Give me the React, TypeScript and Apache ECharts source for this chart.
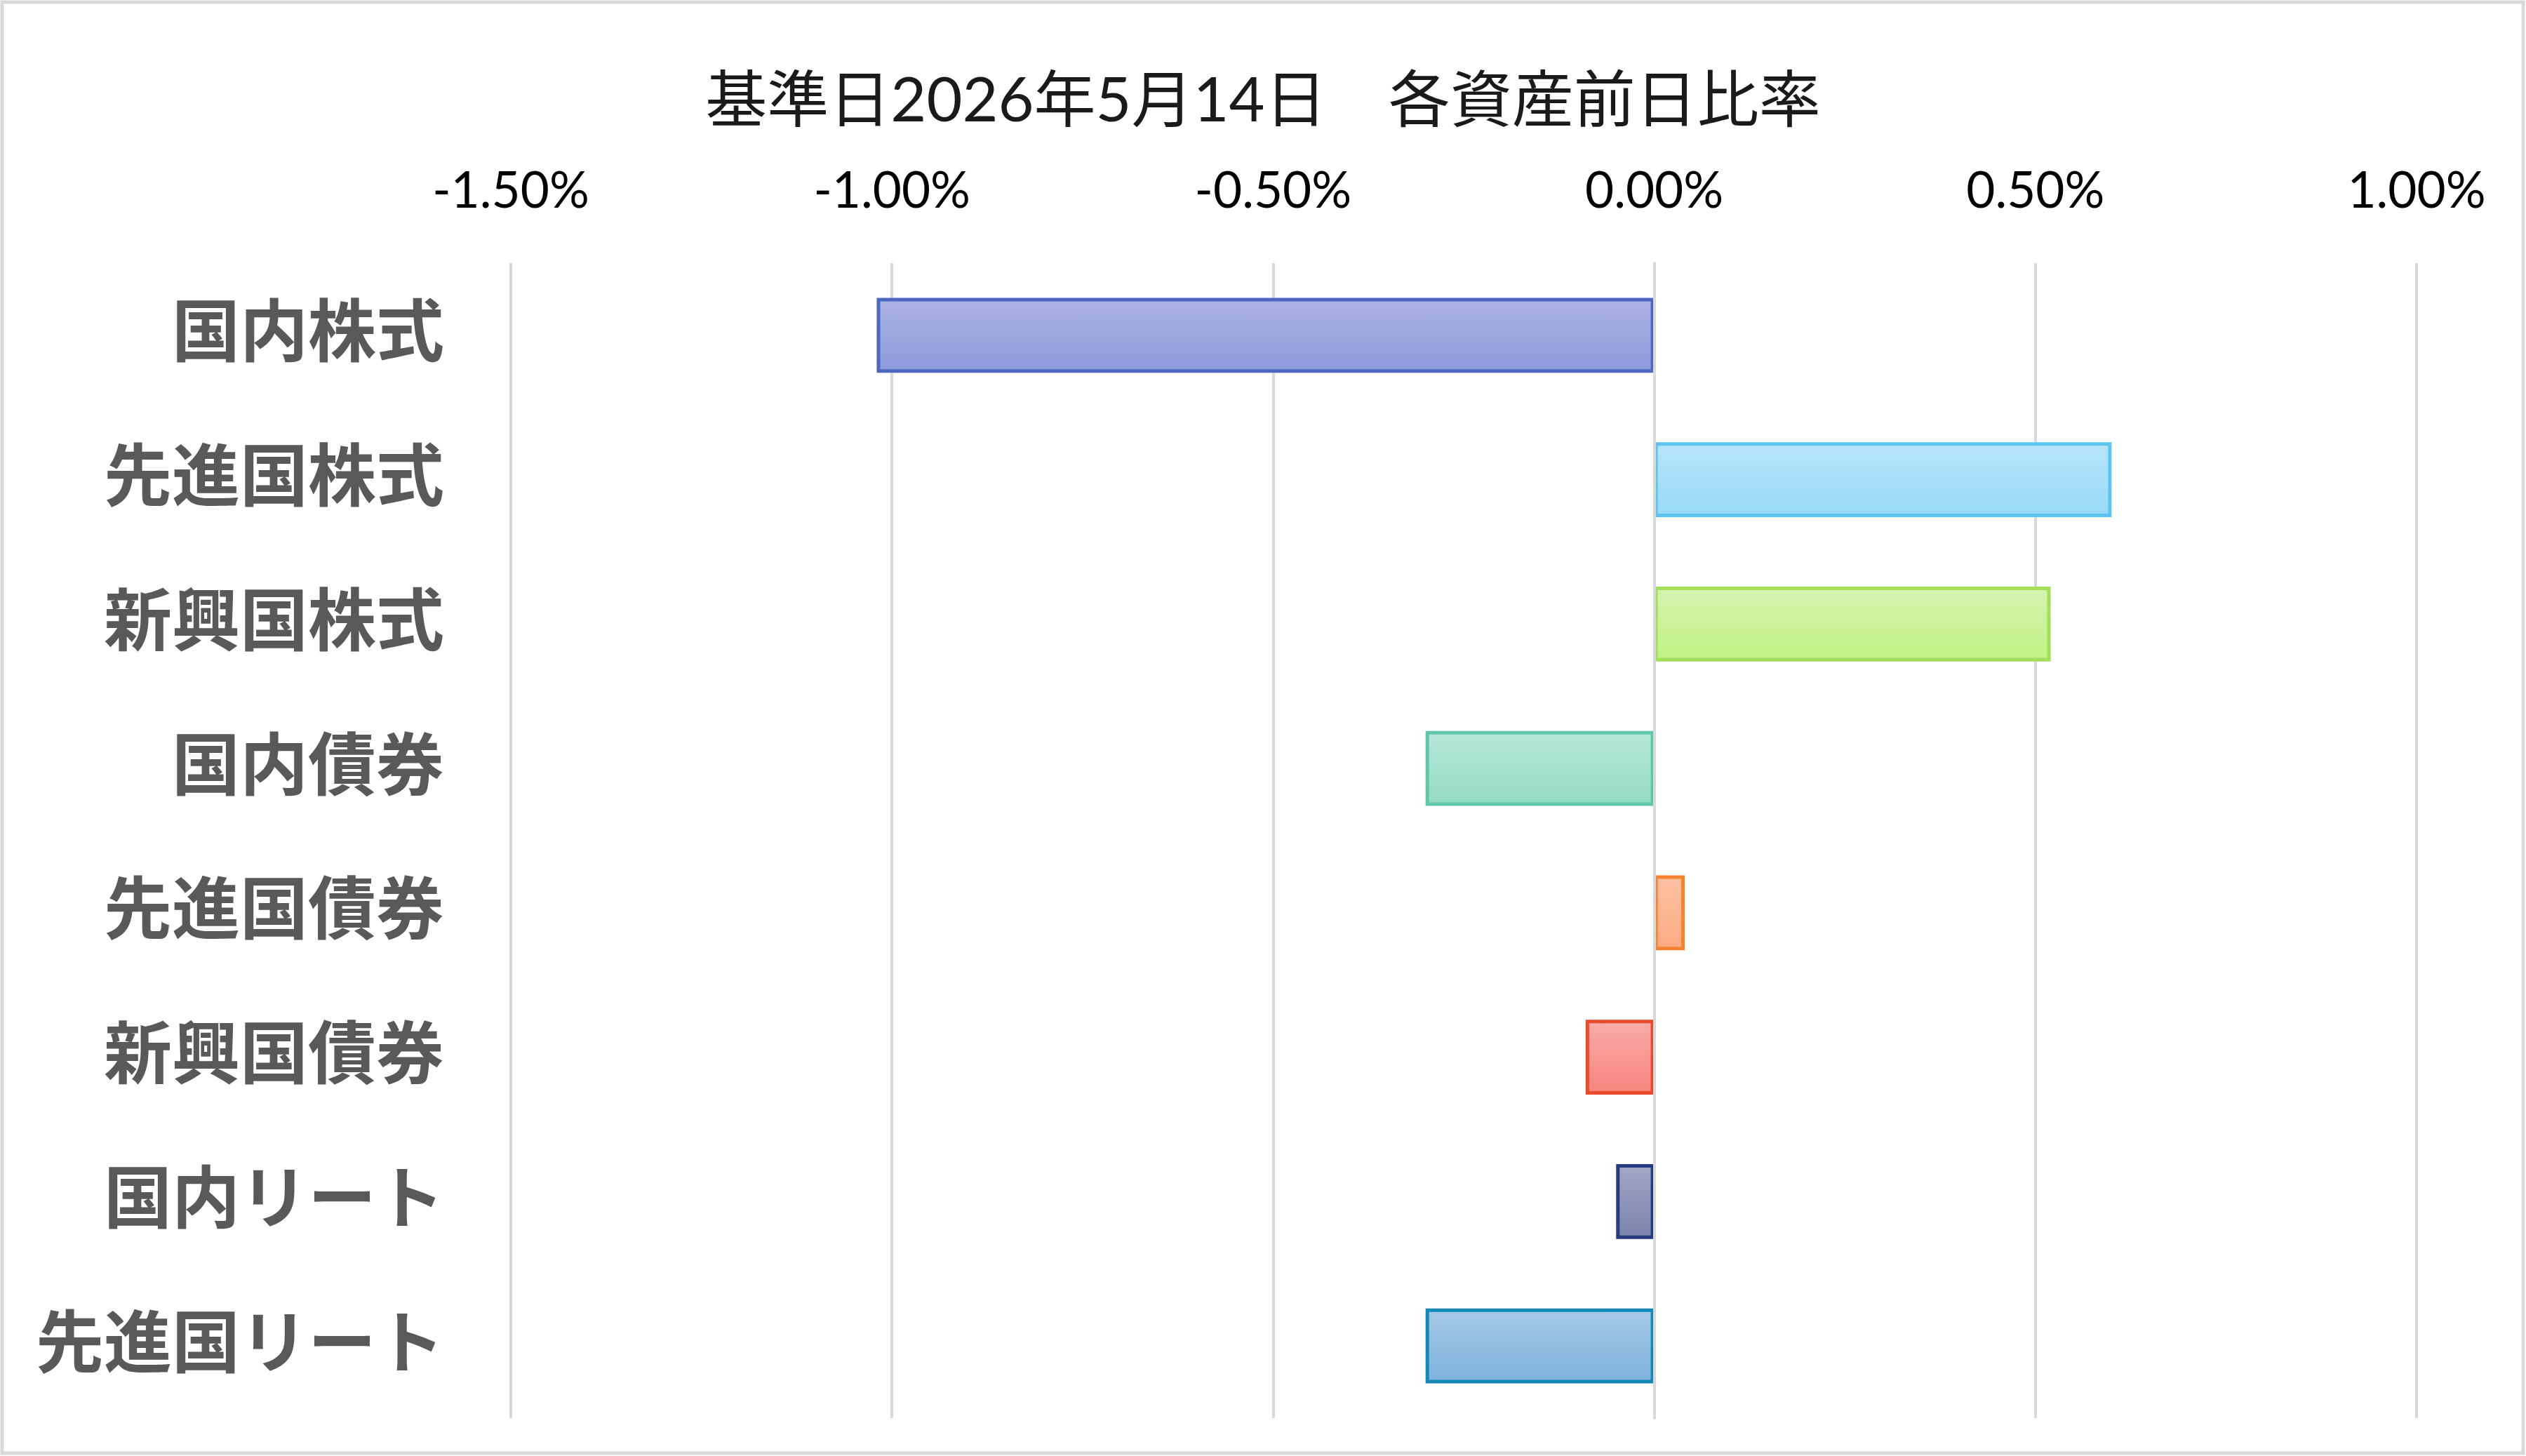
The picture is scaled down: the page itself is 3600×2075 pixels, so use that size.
import React, { useEffect, useRef } from "react";
import * as echarts from "echarts";

const titleText = "基準日2026年5月14日　各資産前日比率";
const categories = ["国内株式", "先進国株式", "新興国株式", "国内債券", "先進国債券", "新興国債券", "国内リート", "先進国リート"];
const values = [-1.02, 0.6, 0.52, -0.3, 0.04, -0.09, -0.05, -0.3];
const fillTops = ["#abb2e4", "#b7e5fa", "#d4f4b0", "#b6e7d9", "#fdc1a2", "#f9aca7", "#a4a7c5", "#a5c9e7"];
const fillBottoms = ["#8d9adb", "#98d9f8", "#c1f184", "#94dbc4", "#fbab83", "#f7837d", "#7a82ac", "#7db1dc"];
const borderColors = ["#4e67c0", "#5bc5ef", "#a2e05a", "#5ec7a9", "#f6832f", "#e84b2c", "#263a80", "#1387b8"];
const tickMin = -1.5;
const tickMax = 1.0;
const tickStep = 0.5;

const App = () => {
  const chartRef = useRef<HTMLDivElement | null>(null);

  useEffect(() => {
    if (!chartRef.current) return;
    const myChart = echarts.init(chartRef.current, null, { renderer: "svg" });

    const option = {
      animation: false,
      backgroundColor: "#ffffff",
      title: {
        text: titleText,
        left: "center",
        top: 90,
        textStyle: {
          fontFamily: "Lato, 'Noto Sans CJK JP'",
          fontSize: 88,
          fontWeight: "normal",
          color: "#1a1a1a",
        },
      },
      graphic: [
        {
          type: "rect",
          shape: { x: 3, y: 3, width: 3593, height: 2068 },
          style: { fill: "none", stroke: "#d9d9d9", lineWidth: 5 },
          silent: true,
        },
      ],
      grid: {
        left: 728,
        right: 156,
        top: 375,
        bottom: 54,
      },
      xAxis: {
        type: "value",
        position: "top",
        min: tickMin,
        max: tickMax,
        interval: tickStep,
        axisLine: { show: false },
        axisTick: { show: false },
        splitLine: { lineStyle: { color: "#d9d9d9", width: 4 } },
        axisLabel: {
          margin: 71,
          fontFamily: "Lato",
          fontSize: 71,
          color: "#000000",
          formatter: (v: number) => v.toFixed(2) + "%",
        },
      },
      yAxis: {
        type: "category",
        inverse: true,
        data: categories,
        z: 3,
        axisLine: { onZero: true, lineStyle: { color: "#d9d9d9", width: 4 } },
        axisTick: { show: false },
        axisLabel: {
          margin: 95,
          formatter: (v: string) => `{a|${v}}\n{b| }`,
          rich: {
            a: {
              fontFamily: "'Noto Sans CJK JP'",
              fontSize: 97,
              fontWeight: "bold",
              color: "#595959",
              lineHeight: 110,
              align: "right",
            },
            b: {
              fontSize: 10,
              lineHeight: 26,
              height: 26,
            },
          },
        },
      },
      series: [
        {
          type: "bar",
          barCategoryGap: "48%",
          data: values.map((v, i) => ({
            value: v,
            itemStyle: {
              color: new echarts.graphic.LinearGradient(0, 0, 0, 1, [
                { offset: 0, color: fillTops[i] },
                { offset: 1, color: fillBottoms[i] },
              ]),
              borderColor: borderColors[i],
              borderWidth: 5,
            },
          })),
        },
      ],
    };

    myChart.setOption(option);

    return () => {
      myChart.dispose();
    };
  }, []);

  return (
    <div
      ref={chartRef}
      style={{ position: "absolute", left: 0, top: 0, width: "3600px", height: "2075px" }}
    ></div>
  );
};

export default App;
